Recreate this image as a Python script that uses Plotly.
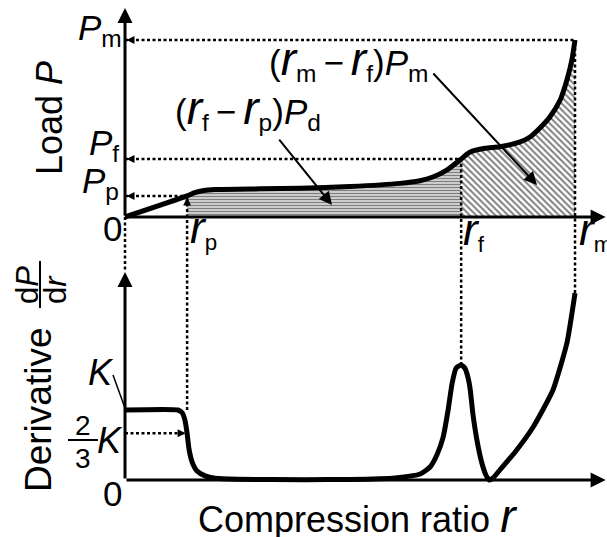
import numpy as np
import plotly.graph_objects as go

# ---------------- data ----------------
r_load = [0.0, 0.138, 0.155, 0.175, 0.20, 0.30, 0.389, 0.50, 0.611, 0.655, 0.684, 0.715, 0.747,
          0.767, 0.80, 0.833, 0.878, 0.90, 0.922, 0.944, 0.967, 0.982, 0.993, 1.0]
P_load = [0.0, 0.119, 0.138, 0.150, 0.155, 0.159, 0.162, 0.172, 0.190, 0.205, 0.226, 0.265, 0.328,
          0.367, 0.388, 0.397, 0.424, 0.452, 0.503, 0.565, 0.661, 0.774, 0.887, 1.0]

r_deriv = [0.0, 0.118, 0.127, 0.133, 0.138, 0.142, 0.149, 0.160, 0.178, 0.20, 0.25, 0.40, 0.50,
           0.60, 0.656, 0.678, 0.693, 0.707, 0.718, 0.727, 0.736, 0.747, 0.755, 0.762, 0.767,
           0.773, 0.782, 0.793, 0.802, 0.809, 0.818, 0.833, 0.867, 0.907, 0.951, 0.982, 1.0]
D_deriv = [1.0, 1.0, 0.96, 0.86, 0.667, 0.45, 0.26, 0.13, 0.06, 0.025, 0.01, 0.005, 0.008,
           0.03, 0.086, 0.186, 0.357, 0.614, 1.0, 1.386, 1.60, 1.643, 1.60, 1.471, 1.30,
           0.95, 0.571, 0.243, 0.071, 0.0, 0.029, 0.143, 0.40, 0.757, 1.286, 1.957, 2.671]

# characteristic values
r_p, r_f, r_m = 0.138, 0.747, 1.0
P_p, P_f, P_m = 0.119, 0.328, 1.0
K = 1.0
K23 = 2.0 / 3.0 * K
D_peak, D_end = 1.643, 2.671

# ---------------- geometry ----------------
W, H = 607, 537
X_RANGE = [-0.2778, 1.0711]
Y1 = [-1.808, 1.226]     # load axis
Y2 = [-0.814, 6.857]     # derivative axis
X_TIP, P_TIP, D_TIP = 1.068, 1.181, 2.97
FONT = "Liberation Sans, Arial, sans-serif"


def P2paper(v):
    return (v - Y1[0]) / (Y1[1] - Y1[0])


def D2paper(v):
    return (v - Y2[0]) / (Y2[1] - Y2[0])


r_arr = np.array(r_load)
P_arr = np.array(P_load)

fig = go.Figure()

# hatched areas
m1 = (r_arr >= r_p) & (r_arr <= r_f)
m2 = (r_arr >= r_f) & (r_arr <= r_m)
fig.add_trace(go.Scatter(x=r_arr[m1], y=P_arr[m1], mode="lines", fill="tozeroy",
                         line=dict(width=0, shape="spline", smoothing=0.6),
                         fillcolor="white",
                         fillpattern=dict(shape="-", fgcolor="black", bgcolor="white",
                                          size=3, solidity=0.6),
                         hoverinfo="skip"))
fig.add_trace(go.Scatter(x=r_arr[m2], y=P_arr[m2], mode="lines", fill="tozeroy",
                         line=dict(width=0, shape="spline", smoothing=0.6),
                         fillcolor="white",
                         fillpattern=dict(shape="\\", fgcolor="black", bgcolor="white",
                                          size=4.5, solidity=0.45),
                         hoverinfo="skip"))

# curves
fig.add_trace(go.Scatter(x=r_load, y=P_load, mode="lines",
                         line=dict(color="black", width=5, shape="spline", smoothing=0.6)))
fig.add_trace(go.Scatter(x=r_deriv, y=D_deriv, mode="lines", yaxis="y2",
                         line=dict(color="black", width=5, shape="spline", smoothing=0.5)))

DOT = dict(color="black", width=2.5, dash="3px,2.5px")
shapes = [
    dict(type="line", xref="x", yref="y", x0=0, x1=r_m, y0=P_m, y1=P_m, line=DOT),
    dict(type="line", xref="x", yref="y", x0=0, x1=r_f, y0=P_f, y1=P_f, line=DOT),
    dict(type="line", xref="x", yref="y", x0=0, x1=r_p, y0=P_p, y1=P_p, line=DOT),
    dict(type="line", xref="x", yref="y2", x0=0, x1=r_p, y0=K23, y1=K23, line=DOT),
    dict(type="line", xref="x", yref="paper", x0=0, x1=0, y0=P2paper(0), y1=D2paper(D_TIP), line=DOT),
    dict(type="line", xref="x", yref="paper", x0=r_p, x1=r_p, y0=D2paper(K), y1=P2paper(P_p), line=DOT),
    dict(type="line", xref="x", yref="paper", x0=r_f, x1=r_f, y0=D2paper(D_peak), y1=P2paper(P_f), line=DOT),
    dict(type="line", xref="x", yref="paper", x0=r_m, x1=r_m, y0=D2paper(D_end), y1=P2paper(P_m), line=DOT),
    # fraction bars and K leader
    dict(type="line", xref="paper", yref="paper", x0=40 / W, x1=40 / W, y0=1 - 261 / H, y1=1 - 308 / H,
         line=dict(color="black", width=2)),
    dict(type="line", xref="paper", yref="paper", x0=68 / W, x1=98 / W, y0=1 - 440 / H, y1=1 - 440 / H,
         line=dict(color="black", width=2)),
    dict(type="line", xref="paper", yref="paper", x0=113 / W, x1=125 / W, y0=1 - 375 / H, y1=1 - 408 / H,
         line=dict(color="black", width=1.5)),
]

ann = []


def axis_arrow(x, y, yref):
    ann.append(dict(x=x, y=y, xref="x", yref=yref, ax=0, ay=0, axref="x", ayref=yref, text="",
                    showarrow=True, arrowhead=2, arrowsize=1, arrowwidth=3, arrowcolor="black",
                    standoff=0))


axis_arrow(X_TIP, 0, "y")
axis_arrow(0, P_TIP, "y")
axis_arrow(X_TIP, 0, "y2")
axis_arrow(0, D_TIP, "y2")


def small_head(x, y, yref, ax, ay):
    ann.append(dict(x=x, y=y, xref="x", yref=yref, ax=ax, ay=ay, text="", showarrow=True,
                    arrowhead=2, arrowsize=0.8, arrowwidth=2, arrowcolor="black", standoff=1.5))


small_head(0, P_m, "y", 10, 0)
small_head(0, P_f, "y", 10, 0)
small_head(0, P_p, "y", 10, 0)
small_head(r_p, P_p, "y", 0, 10)
small_head(r_p, K23, "y2", -10, 0)

# pointer arrows for the area labels
ann.append(dict(x=0.9156, y=0.181, xref="x", yref="y", ax=0.682, ay=0.819, axref="x", ayref="y",
                text="", showarrow=True, arrowhead=2, arrowsize=1.3, arrowwidth=2,
                arrowcolor="black", standoff=0))
ann.append(dict(x=0.46, y=0.068, xref="x", yref="y", ax=0.34, ay=0.446, axref="x", ayref="y",
                text="", showarrow=True, arrowhead=2, arrowsize=1.3, arrowwidth=2,
                arrowcolor="black", standoff=0))


def R(sz):
    return f'<span style="font-size:{sz}px"><i>r</i></span>'


def lab(text, x, y, size, xanchor="center", yanchor="middle", angle=0):
    ann.append(dict(text=text, x=x / W, y=1 - y / H, xref="paper", yref="paper", showarrow=False,
                    xanchor=xanchor, yanchor=yanchor, textangle=angle,
                    font=dict(family=FONT, size=size, color="black")))


TS = "\u2009"
lab("Load <i>P</i>", 49, 118, 36, angle=-90)
lab("Derivative", 38, 410, 37, angle=-90)
lab("d<i>P</i>", 27, 285, 31, angle=-90)
lab("d<i>r</i>", 55, 290, 31, angle=-90)

lab("<i>P</i><sub>m</sub>", 124, 30, 35, xanchor="right")
lab("<i>P</i><sub>f</sub>", 121, 145, 35, xanchor="right")
lab("<i>P</i><sub>p</sub>", 121, 183, 35, xanchor="right")
lab("0", 124, 228, 35, xanchor="right")

lab(R(44) + "<sub>p</sub>", 188, 229, 32, xanchor="left")
lab(R(44) + "<sub>f</sub>", 461, 231, 32, xanchor="left")
lab(R(44) + "<sub>m</sub>", 577, 231, 32, xanchor="left")

lab("(" + R(46) + "<sub>m</sub>" + TS + "\u2212" + TS + R(46) + "<sub>f</sub>)<i>P</i><sub>m</sub>",
    348, 60, 35)
lab("(" + R(46) + "<sub>f</sub>" + TS + "\u2212" + TS + R(46) + "<sub>p</sub>)<i>P</i><sub>d</sub>",
    248, 109, 35)

lab("<i>K</i>", 101, 372, 36)
lab("2", 83, 425, 28)
lab("3", 83, 458, 28)
lab("<i>K</i>", 110, 440, 36)
lab("0", 124, 493, 35, xanchor="right")

lab("Compression ratio " + R(46), 357, 516, 36)

fig.update_layout(
    width=W, height=H, margin=dict(l=0, r=0, t=0, b=0),
    paper_bgcolor="white", plot_bgcolor="white", showlegend=False,
    xaxis=dict(range=X_RANGE, visible=False, domain=[0, 1]),
    yaxis=dict(range=Y1, visible=False, domain=[0, 1]),
    yaxis2=dict(range=Y2, visible=False, domain=[0, 1], overlaying="y"),
    shapes=shapes, annotations=ann,
)

fig.write_html("out.html")
